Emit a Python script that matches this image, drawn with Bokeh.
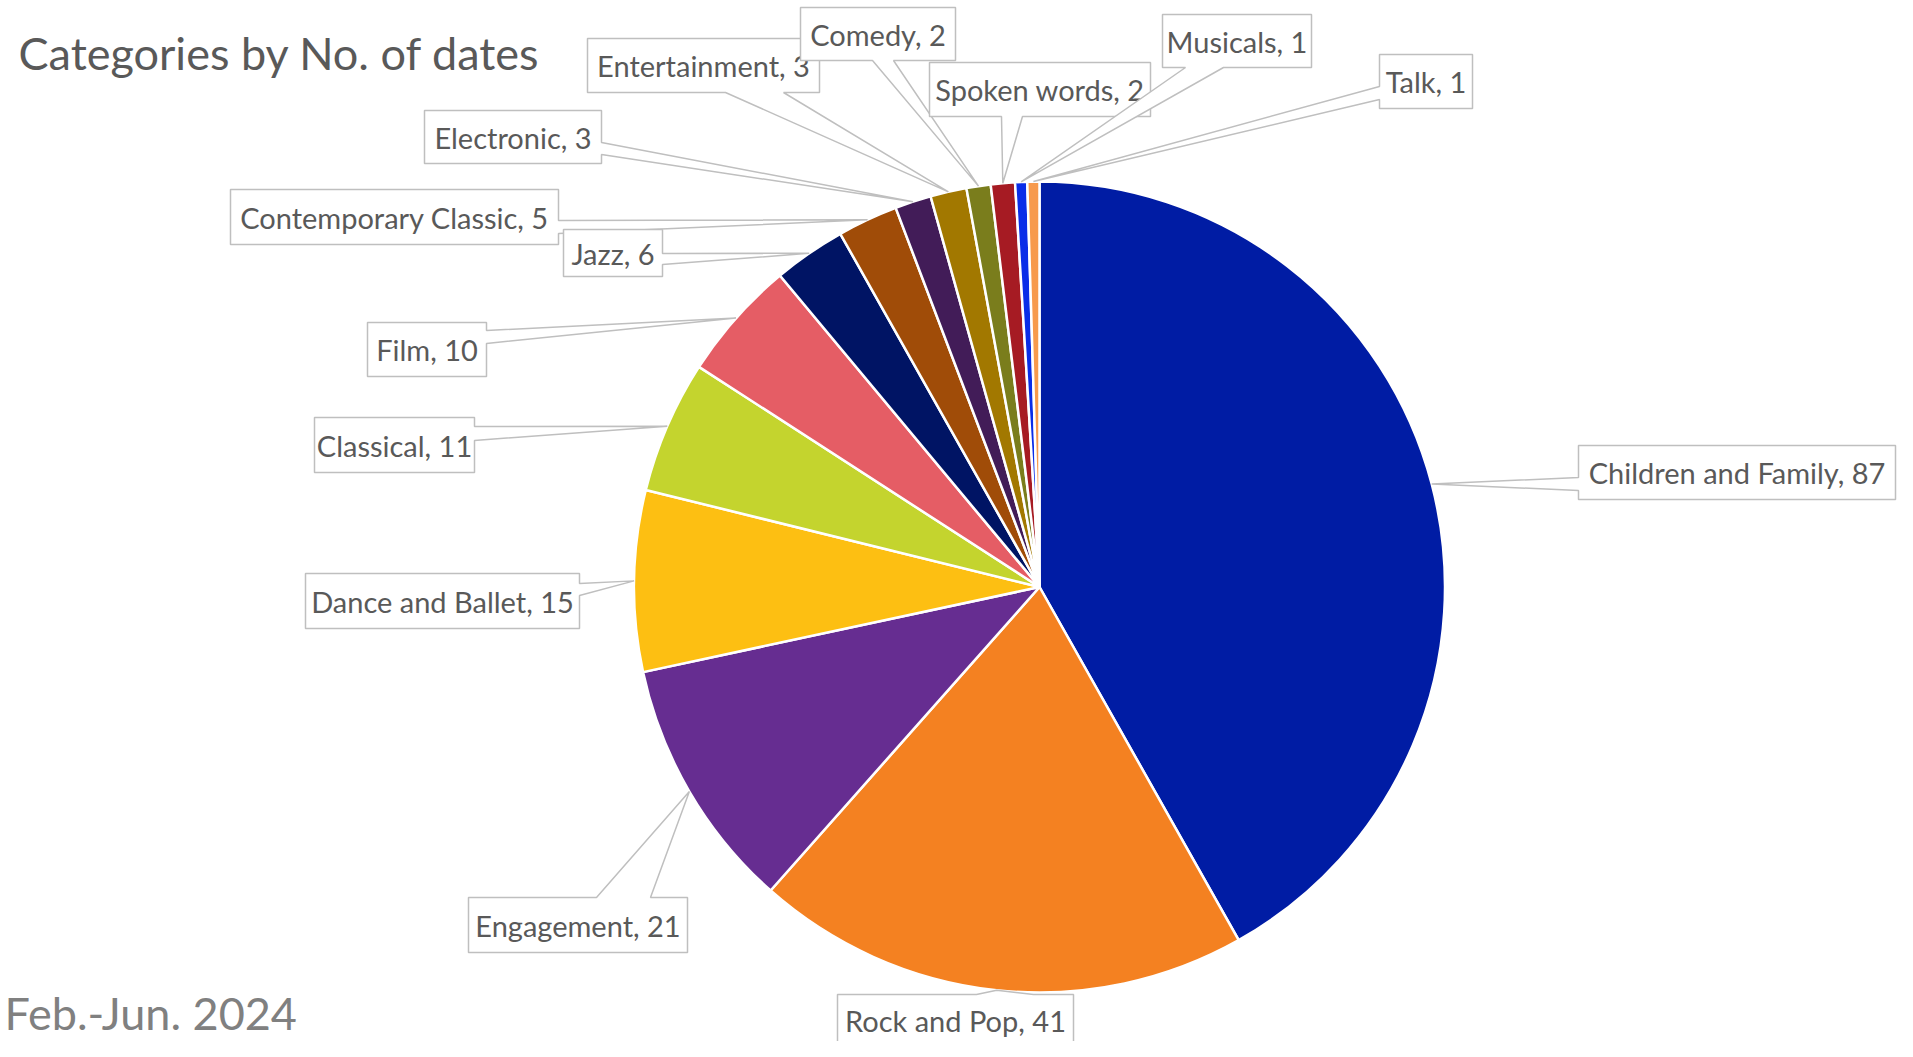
import numpy as np
from bokeh.plotting import figure
from bokeh.models import Range1d, ColumnDataSource
from bokeh.core.properties import value
from bokeh.embed import file_html
from bokeh.resources import INLINE

# ---- data ----
categories = ["Children and Family", "Rock and Pop", "Engagement", "Dance and Ballet",
              "Classical", "Film", "Jazz", "Contemporary Classic", "Electronic",
              "Entertainment", "Comedy", "Spoken words", "Musicals", "Talk"]
counts = [87, 41, 21, 15, 11, 10, 6, 5, 3, 3, 2, 2, 1, 1]
colors = ["#001CA4", "#F48121", "#662D91", "#FDBF12", "#C4D42E", "#E55D65",
          "#001464", "#A04C08", "#421C58", "#A27800", "#7A7D1C", "#A61B23",
          "#0A2DE8", "#F79A4C"]
title = "Categories by No. of dates"
subtitle = "Feb.-Jun. 2024"

# ---- layout (pixel space, origin top-left) ----
W, H = 1897, 1041
CX, CY, R = 1039, 586.5, 405.5
# callout boxes: x0, y0, x1, y1, pointer side, pointer base 1, pointer base 2
callouts = [
    (1578, 445, 1895, 499, "left", 477, 490),
    (837, 994, 1073, 1045, "top", 976, 1033),
    (468, 897, 687, 952, "top", 596, 650),
    (305, 573, 579, 628, "right", 583, 595),
    (314, 417, 474, 472, "right", 426, 440),
    (367, 322, 486, 376, "right", 330, 343),
    (563, 229, 662, 276, "right", 253, 264),
    (230, 189, 558, 244, "right", 220, 233),
    (424, 110, 601, 163, "right", 142, 154),
    (587, 38, 819, 92, "bottom", 725, 783),
    (800, 7, 955, 60, "bottom", 872, 893),
    (929, 62, 1150, 116, "bottom", 1001, 1022),
    (1162, 14, 1311, 67, "bottom", 1185, 1223),
    (1379, 54, 1472, 108, "left", 86, 99),
]
draw_order = [0, 1, 2, 3, 4, 5, 7, 6, 8, 9, 10, 11, 12, 13]


def tx(X):
    return X


def ty(Y):
    return H - Y


p = figure(width=W, height=H, x_range=Range1d(0, W), y_range=Range1d(0, H),
           output_backend="svg", toolbar_location=None, min_border=0,
           x_axis_type=None, y_axis_type=None)
p.outline_line_color = None
p.xgrid.visible = False
p.ygrid.visible = False
p.background_fill_color = "white"
p.border_fill_color = "white"

vals = np.array(counts, dtype=float)
frac = vals / vals.sum()
cum = np.concatenate([[0], np.cumsum(frac)])
start = np.pi / 2 - 2 * np.pi * cum[:-1]
end = np.pi / 2 - 2 * np.pi * cum[1:]
mid = (start + end) / 2

src = ColumnDataSource(dict(start=start, end=end, color=colors))
p.wedge(x=tx(CX), y=ty(CY), radius=R, start_angle="start", end_angle="end",
        direction="clock", fill_color="color", line_color="white", line_width=2.5,
        source=src)

# anchors at slice mid-angle on the rim (pixel space)
ax = CX + R * np.cos(mid)
ay = CY - R * np.sin(mid)

xs, ys = [], []
for i in draw_order:
    x0, y0, x1, y1, side, b1, b2 = callouts[i]
    a = (ax[i], ay[i])
    if side == "top":
        pts = [(x0, y0), (b1, y0), a, (b2, y0), (x1, y0), (x1, y1), (x0, y1)]
    elif side == "right":
        pts = [(x0, y0), (x1, y0), (x1, b1), a, (x1, b2), (x1, y1), (x0, y1)]
    elif side == "bottom":
        pts = [(x0, y0), (x1, y0), (x1, y1), (b2, y1), a, (b1, y1), (x0, y1)]
    else:
        pts = [(x0, y0), (x1, y0), (x1, y1), (x0, y1), (x0, b2), a, (x0, b1)]
    xs.append([tx(px) for px, py in pts])
    ys.append([ty(py) for px, py in pts])

lx, ly, lt = [], [], []
for i in range(len(categories)):
    x0, y0, x1, y1 = callouts[i][:4]
    lx.append(tx((x0 + x1) / 2))
    ly.append(ty((y0 + y1) / 2))
    lt.append(f"{categories[i]}, {counts[i]}")

for k in range(len(xs)):
    i = draw_order[k]
    p.patch(x=xs[k], y=ys[k], fill_color="white", line_color="#BFBFBF", line_width=1.5)
    p.text(x=[lx[i]], y=[ly[i]], text=[lt[i]], text_font=value("Lato"),
           text_font_size="29px", text_color="#595959", text_align="center",
           text_baseline="middle")

p.text(x=[tx(18)], y=[ty(52)], text=[title], text_font=value("Lato"),
       text_font_size="45px", text_color="#595959", text_align="left",
       text_baseline="middle")
p.text(x=[tx(4)], y=[ty(1012)], text=[subtitle], text_font=value("Lato"),
       text_font_size="45px", text_color="#808080", text_align="left",
       text_baseline="middle")

open("out.html", "w").write(file_html(p, INLINE))
